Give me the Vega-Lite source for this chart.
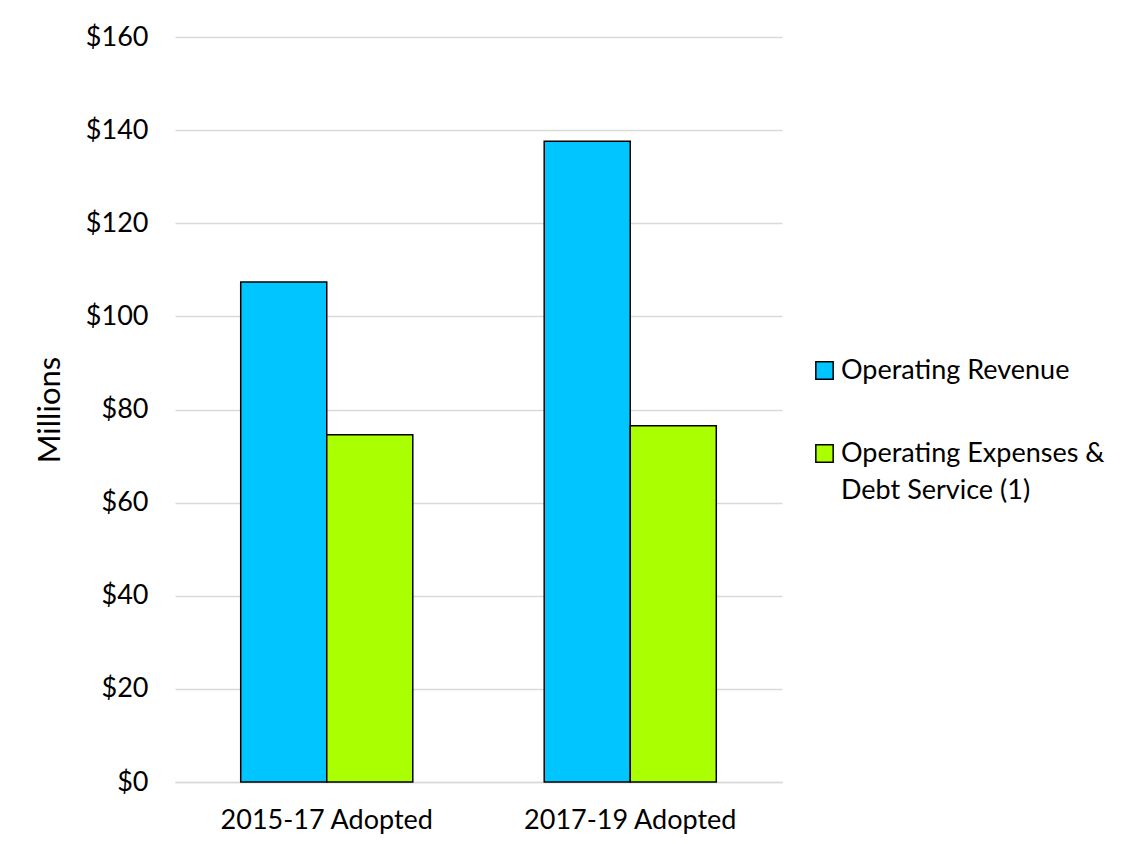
{
  "$schema": "https://vega.github.io/schema/vega-lite/v6.json",
  "autosize": "none",
  "width": 607,
  "height": 745,
  "padding": {"left": 175, "top": 37, "right": 361, "bottom": 62},
  "background": "white",
  "data": {
    "values": [
      {"period": "2015-17 Adopted", "series": "Operating Revenue", "value": 107.4},
      {"period": "2015-17 Adopted", "series": "Operating Expenses & Debt Service (1)", "value": 74.6},
      {"period": "2017-19 Adopted", "series": "Operating Revenue", "value": 137.6},
      {"period": "2017-19 Adopted", "series": "Operating Expenses & Debt Service (1)", "value": 76.5}
    ]
  },
  "config": {
    "font": "Lato",
    "view": {"stroke": null},
    "style": {"guide-label": {"lineHeight": 37}}
  },
  "mark": {"type": "bar", "stroke": "black", "strokeWidth": 1.5},
  "encoding": {
    "x": {
      "field": "period", "type": "nominal",
      "scale": {"paddingInner": 0.433, "paddingOuter": 0.2165},
      "axis": {"title": null, "labelAngle": 0, "labelFontSize": 27, "labelColor": "#000000", "labelPadding": 25,
               "labelLimit": 0, "labelOverlap": false,
               "ticks": false, "domainColor": "#d9d9d9", "domainWidth": 1.5}
    },
    "xOffset": {
      "field": "series", "type": "nominal",
      "sort": ["Operating Revenue", "Operating Expenses & Debt Service (1)"],
      "scale": {"paddingInner": 0, "paddingOuter": 0}
    },
    "y": {
      "field": "value", "type": "quantitative",
      "scale": {"domain": [0, 160], "nice": false},
      "axis": {"title": "Millions", "titleFontSize": 31, "titleFontWeight": "normal", "titleColor": "#000000",
               "titlePadding": 19, "format": "$.0f", "values": [0,20,40,60,80,100,120,140,160],
               "labelOverlap": false, "labelFontSize": 27, "labelColor": "#000000", "labelPadding": 27, "ticks": false, "domain": false,
               "gridColor": "#d9d9d9", "gridWidth": 1.5}
    },
    "fill": {
      "field": "series", "type": "nominal",
      "sort": ["Operating Revenue", "Operating Expenses & Debt Service (1)"],
      "scale": {"range": ["#00c5ff", "#aaff00"]},
      "legend": {
        "title": null, "orient": "none", "legendX": 636, "legendY": 320,
        "symbolType": "square", "symbolSize": 300, "symbolStrokeColor": "black", "symbolStrokeWidth": 1.5,
        "labelFontSize": 27, "labelColor": "#000000", "labelLimit": 400, "rowPadding": 55,
        "labelOffset": 3,
        "labelExpr": "datum.label == 'Operating Expenses & Debt Service (1)' ? ['Operating Expenses &', 'Debt Service (1)'] : datum.label"
      }
    }
  }
}
